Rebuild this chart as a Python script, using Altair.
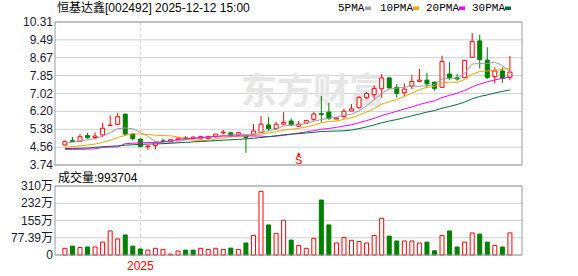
import altair as alt
import pandas as pd

# ---------------- data ----------------
title_text = "恒基达鑫[002492] 2025-12-12 15:00"
opens = [4.66, 4.86, 4.83, 5.09, 5.00, 5.12, 5.55, 5.61, 6.08, 5.16,
         4.93, 4.58, 4.64, 4.85, 4.81, 4.90, 4.99, 4.96, 4.94, 4.96,
         5.04, 5.22, 5.22, 5.12, 5.06, 5.15, 5.22, 5.58, 5.41, 5.62,
         5.76, 5.52, 5.66, 5.84, 6.10, 6.17, 5.85, 5.96, 6.22, 6.37,
         6.83, 6.97, 7.24, 7.74, 7.31, 7.06, 7.37, 7.58, 7.64, 7.55,
         7.31, 7.92, 7.75, 7.75, 8.69, 9.44, 8.56, 7.80, 8.06, 7.77]
highs = [4.87, 5.03, 5.16, 5.21, 5.24, 5.67, 6.02, 6.13, 6.08, 5.18,
         4.95, 4.66, 4.81, 4.95, 4.92, 5.00, 5.06, 5.05, 5.08, 5.09,
         5.17, 5.35, 5.27, 5.24, 5.08, 5.62, 5.99, 5.94, 5.73, 6.17,
         5.89, 5.76, 5.80, 6.19, 6.91, 6.60, 5.93, 6.33, 6.54, 6.90,
         7.09, 7.40, 7.92, 7.78, 7.46, 7.49, 7.87, 8.15, 7.98, 7.55,
         8.76, 8.47, 7.92, 8.55, 9.80, 9.73, 9.15, 8.23, 8.23, 8.75]
lows = [4.63, 4.82, 4.80, 4.95, 4.92, 5.03, 5.53, 5.58, 5.10, 4.86,
        4.57, 4.43, 4.46, 4.76, 4.80, 4.88, 4.90, 4.93, 4.92, 4.94,
        5.00, 5.15, 5.04, 5.06, 4.30, 5.14, 5.22, 5.30, 5.35, 5.58,
        5.53, 5.50, 5.64, 5.77, 5.70, 5.81, 5.84, 5.87, 6.22, 6.34,
        6.76, 6.77, 6.83, 7.25, 6.83, 6.90, 7.23, 7.55, 7.29, 7.15,
        7.31, 7.64, 7.61, 7.75, 8.69, 8.18, 7.70, 7.49, 7.52, 7.64]
closes = [4.81, 4.83, 5.04, 5.00, 5.07, 5.43, 5.57, 5.96, 5.16, 4.95,
          4.58, 4.61, 4.78, 4.83, 4.90, 4.97, 4.95, 5.02, 5.04, 5.04,
          5.16, 5.25, 5.09, 5.22, 5.00, 5.30, 5.62, 5.41, 5.61, 5.70,
          5.58, 5.62, 5.79, 6.08, 6.06, 5.88, 5.90, 6.21, 6.32, 6.85,
          7.02, 7.26, 7.74, 7.28, 7.03, 7.23, 7.58, 7.64, 7.47, 7.26,
          8.50, 7.75, 7.69, 8.55, 9.42, 8.58, 7.75, 8.06, 7.72, 8.01]

ma5 = [4.74, 4.78, 4.84, 4.90, 4.95, 5.07, 5.22, 5.41, 5.44, 5.41,
       5.24, 5.05, 4.82, 4.75, 4.74, 4.82, 4.89, 4.93, 4.98, 5.00,
       5.04, 5.10, 5.12, 5.15, 5.14, 5.17, 5.25, 5.31, 5.39, 5.53,
       5.58, 5.58, 5.66, 5.75, 5.83, 5.89, 5.94, 6.03, 6.07, 6.23,
       6.46, 6.73, 7.04, 7.23, 7.27, 7.31, 7.37, 7.35, 7.39, 7.44,
       7.69, 7.72, 7.73, 7.95, 8.38, 8.40, 8.40, 8.47, 8.31, 8.02]
ma10 = [4.55, 4.58, 4.62, 4.66, 4.70, 4.78, 4.88, 5.00, 5.10, 5.18,
        5.16, 5.14, 5.11, 5.09, 5.08, 5.03, 4.97, 4.88, 4.86, 4.87,
        4.93, 4.99, 5.03, 5.06, 5.07, 5.11, 5.17, 5.21, 5.27, 5.34,
        5.38, 5.42, 5.49, 5.57, 5.68, 5.74, 5.76, 5.84, 5.91, 6.03,
        6.17, 6.34, 6.53, 6.65, 6.75, 6.88, 7.05, 7.20, 7.31, 7.35,
        7.50, 7.55, 7.54, 7.67, 7.91, 8.04, 8.06, 8.10, 8.13, 8.20]
ma20 = [4.46, 4.46, 4.46, 4.47, 4.48, 4.55, 4.56, 4.57, 4.72, 4.74,
        4.76, 4.77, 4.78, 4.80, 4.84, 4.90, 4.94, 4.97, 5.00, 5.03,
        5.05, 5.07, 5.07, 5.08, 5.08, 5.07, 5.07, 5.04, 5.07, 5.10,
        5.15, 5.21, 5.26, 5.32, 5.38, 5.42, 5.47, 5.53, 5.59, 5.68,
        5.78, 5.88, 6.01, 6.11, 6.21, 6.31, 6.41, 6.52, 6.61, 6.69,
        6.84, 6.94, 7.04, 7.16, 7.33, 7.46, 7.56, 7.65, 7.72, 7.78]
ma30 = [4.49, 4.50, 4.51, 4.52, 4.55, 4.58, 4.60, 4.62, 4.65, 4.67,
        4.69, 4.70, 4.71, 4.72, 4.74, 4.76, 4.78, 4.80, 4.82, 4.84,
        4.86, 4.88, 4.90, 4.92, 4.94, 4.97, 5.00, 5.04, 5.08, 5.13,
        5.16, 5.18, 5.21, 5.24, 5.28, 5.29, 5.30, 5.31, 5.35, 5.41,
        5.49, 5.58, 5.68, 5.76, 5.83, 5.91, 6.00, 6.08, 6.17, 6.24,
        6.35, 6.43, 6.52, 6.63, 6.78, 6.89, 6.96, 7.05, 7.12, 7.19]

last_volume = 993704
volumes = [30, 40, 34, 36, 36, 58, 108, 72, 90, 40,
           27, 22, 30, 25, 4, 18, 22, 22, 30, 25,
           30, 25, 31, 25, 54, 88, 286, 135, 97, 156,
           67, 43, 30, 75, 247, 135, 54, 79, 66, 61,
           54, 88, 165, 85, 63, 63, 63, 54, 58, 19,
           88, 108, 36, 58, 99, 94, 58, 43, 36, last_volume / 1e4]
vol_up = [1, 0, 1, 0, 1, 1, 1, 1, 0, 0,
          0, 1, 1, 1, 1, 1, 0, 0, 1, 1,
          1, 1, 0, 1, 0, 1, 1, 0, 1, 1,
          0, 1, 1, 1, 0, 0, 1, 1, 1, 1,
          1, 1, 1, 0, 0, 1, 1, 1, 0, 0,
          1, 0, 0, 1, 1, 0, 0, 1, 0, 1]

price_ticks = [3.74, 4.56, 5.38, 6.20, 7.02, 7.85, 8.67, 9.49, 10.31]
vol_ticks = [0, 77.39, 155, 232, 310]
year_label = "2025"
year_index = 10
signal_index = 31
signal_text = "S"
ma_names = ["5PMA", "10PMA", "20PMA", "30PMA"]
ma_colors = ["#9e9e9e", "#f5a300", "#ff00ff", "#00703a"]
watermark = "东方财富"

RED, GREEN = "#ff0000", "#008000"
W, H = 467, 233
PH = 143            # price panel height
VT, VB = 164, 233   # volume panel top/bottom (px)
FONT = "Liberation Sans, Noto Sans CJK SC"

# ---------------- tables ----------------
n = len(closes)
df = pd.DataFrame({"i": list(range(n)), "open": opens, "high": highs,
                   "low": lows, "close": closes})
df["lo"] = df[["open", "close"]].min(axis=1)
df["hi"] = df[["open", "close"]].max(axis=1)
df["dir"] = ["up" if c >= o else "down" for o, c in zip(opens, closes)]

vdf = pd.DataFrame({"i": list(range(n)), "vol": volumes,
                    "dir": ["up" if u else "down" for u in vol_up]})

rows = []
for name, arr in zip(ma_names, [ma5, ma10, ma20, ma30]):
    for k, v in enumerate(arr):
        rows.append({"i": k, "v": v, "ma": name})
madf = pd.DataFrame(rows)

xs = alt.Scale(domain=[-0.65, 59.94], nice=False, zero=False)
ps = alt.Scale(domain=[price_ticks[0], price_ticks[-1]], range=[PH, 0], nice=False, zero=False)
vs = alt.Scale(domain=[vol_ticks[0], vol_ticks[-1]], range=[VB, VT], nice=False, zero=False)
dir_stroke = alt.Scale(domain=["up", "down"], range=[RED, GREEN])
dir_fill = alt.Scale(domain=["up", "down"], range=["#ffffff", GREEN])
X = alt.X("i:Q", scale=xs, axis=None)

# ---------------- price panel ----------------
pt = pd.DataFrame({"v": price_ticks})
pframe = pd.DataFrame({"top": [price_ticks[-1]], "bot": [price_ticks[0]], "i": [year_index]})

p_grid = alt.Chart(pt).mark_rule(color="#d0d0d0", strokeWidth=1).encode(
    y=alt.Y("v:Q", scale=ps, axis=None), x=alt.value(0), x2=alt.value(W))
p_labels = alt.Chart(pt).mark_text(align="right", baseline="middle", font=FONT,
                                   fontSize=12, color="#1a1a2e").encode(
    y=alt.Y("v:Q", scale=ps, axis=None), x=alt.value(-2),
    text=alt.Text("v:Q", format=".2f"))
p_dash = alt.Chart(pframe).mark_rule(color="#c8c8c8", strokeDash=[3, 3], strokeWidth=1).encode(
    x=X, y=alt.Y("top:Q", scale=ps, axis=None), y2="bot:Q")
p_frame = alt.Chart(pframe).mark_rect(fillOpacity=0, stroke="#999999", strokeWidth=1).encode(
    x=alt.value(0), x2=alt.value(W), y=alt.Y("top:Q", scale=ps, axis=None), y2="bot:Q")
wm = alt.Chart(pd.DataFrame({"t": [watermark]})).mark_text(
    font="Noto Sans CJK SC", fontSize=36, fontWeight="bold", color="#e6e6e6").encode(
    text="t:N", x=alt.value(258), y=alt.value(71))
wicks = alt.Chart(df).mark_rule(strokeWidth=1).encode(
    x=X, y=alt.Y("low:Q", scale=ps, axis=None), y2="high:Q",
    stroke=alt.Stroke("dir:N", scale=dir_stroke, legend=None))
bodies = alt.Chart(df).mark_bar(size=4, strokeWidth=1).encode(
    x=X, y=alt.Y("lo:Q", scale=ps, axis=None), y2="hi:Q",
    fill=alt.Fill("dir:N", scale=dir_fill, legend=None),
    stroke=alt.Stroke("dir:N", scale=dir_stroke, legend=None))
ma_lines = alt.Chart(madf).mark_line(strokeWidth=1).encode(
    x=X, y=alt.Y("v:Q", scale=ps, axis=None),
    color=alt.Color("ma:N", scale=alt.Scale(domain=ma_names, range=ma_colors), legend=None),
    order="i:Q")
sig = pd.DataFrame({"i": [signal_index], "t": [signal_text]})
sig_tri = alt.Chart(sig).mark_point(shape="triangle-up", filled=True, size=16,
                                    color=RED, opacity=1).encode(x=X, y=alt.value(132))
sig_txt = alt.Chart(sig).mark_text(font=FONT, fontSize=11, color=RED, baseline="middle").encode(
    x=X, y=alt.value(139), text="t:N")

title = alt.Chart(pd.DataFrame({"t": [title_text]})).mark_text(
    align="left", baseline="middle", font=FONT, fontSize=12, color="#000000").encode(
    text="t:N", x=alt.value(2), y=alt.value(-14))

leg_text_x = [283, 325, 371, 417]
leg_sw_x = [310, 358, 404, 450]
leg_layers = []
for name, col, tx, sx in zip(ma_names, ma_colors, leg_text_x, leg_sw_x):
    d = pd.DataFrame({"t": [name]})
    leg_layers.append(alt.Chart(d).mark_text(
        align="left", baseline="middle", font="Liberation Mono", fontSize=11,
        color="#000000").encode(text="t:N", x=alt.value(tx), y=alt.value(-14)))
    leg_layers.append(alt.Chart(d).mark_rect(color=col).encode(
        x=alt.value(sx), x2=alt.value(sx + 6), y=alt.value(-15.5), y2=alt.value(-12)))

price = alt.layer(p_grid, p_labels, wm, p_dash, wicks, bodies, ma_lines, p_frame,
                  sig_tri, sig_txt, title, *leg_layers)

# ---------------- volume panel ----------------
vt = pd.DataFrame({"v": vol_ticks,
                   "lab": ["0" if v == 0 else f"{v:g}万" for v in vol_ticks]})
vframe = pd.DataFrame({"top": [vol_ticks[-1]], "bot": [vol_ticks[0]], "i": [year_index],
                       "y": [year_label]})

v_grid = alt.Chart(vt).mark_rule(color="#d0d0d0", strokeWidth=1).encode(
    y=alt.Y("v:Q", scale=vs, axis=None), x=alt.value(0), x2=alt.value(W))
v_labels = alt.Chart(vt).mark_text(align="right", baseline="middle", font=FONT,
                                   fontSize=12, color="#1a1a2e").encode(
    y=alt.Y("v:Q", scale=vs, axis=None), x=alt.value(-2), text="lab:N")
v_dash = alt.Chart(vframe).mark_rule(color="#c8c8c8", strokeDash=[3, 3], strokeWidth=1).encode(
    x=X, y=alt.Y("top:Q", scale=vs, axis=None), y2="bot:Q")
v_frame = alt.Chart(vframe).mark_rect(fillOpacity=0, stroke="#999999", strokeWidth=1).encode(
    x=alt.value(0), x2=alt.value(W), y=alt.Y("top:Q", scale=vs, axis=None), y2="bot:Q")
v_bars = alt.Chart(vdf).mark_bar(size=4, strokeWidth=1).encode(
    x=X, y=alt.Y("vol:Q", scale=vs, axis=None),
    fill=alt.Fill("dir:N", scale=dir_fill, legend=None),
    stroke=alt.Stroke("dir:N", scale=dir_stroke, legend=None))
v_title = alt.Chart(pd.DataFrame({"t": [f"成交量:{last_volume}"]})).mark_text(
    align="left", baseline="middle", font=FONT, fontSize=12, color="#000000").encode(
    text="t:N", x=alt.value(3), y=alt.value(156))
v_year = alt.Chart(vframe).mark_text(font=FONT, fontSize=12, color=RED,
                                     baseline="middle").encode(
    x=X, y=alt.value(VB + 11), text="y:N")

volume = alt.layer(v_grid, v_labels, v_dash, v_bars, v_frame, v_title, v_year)

chart = alt.layer(price, volume).resolve_scale(y="independent").properties(
    width=W, height=H,
    autosize=alt.AutoSizeParams(type="none"),
    padding={"left": 55, "top": 22, "right": 56, "bottom": 21},
).configure_view(strokeWidth=0)

chart.save("out.html", embed_options={"renderer": "svg", "actions": False})
